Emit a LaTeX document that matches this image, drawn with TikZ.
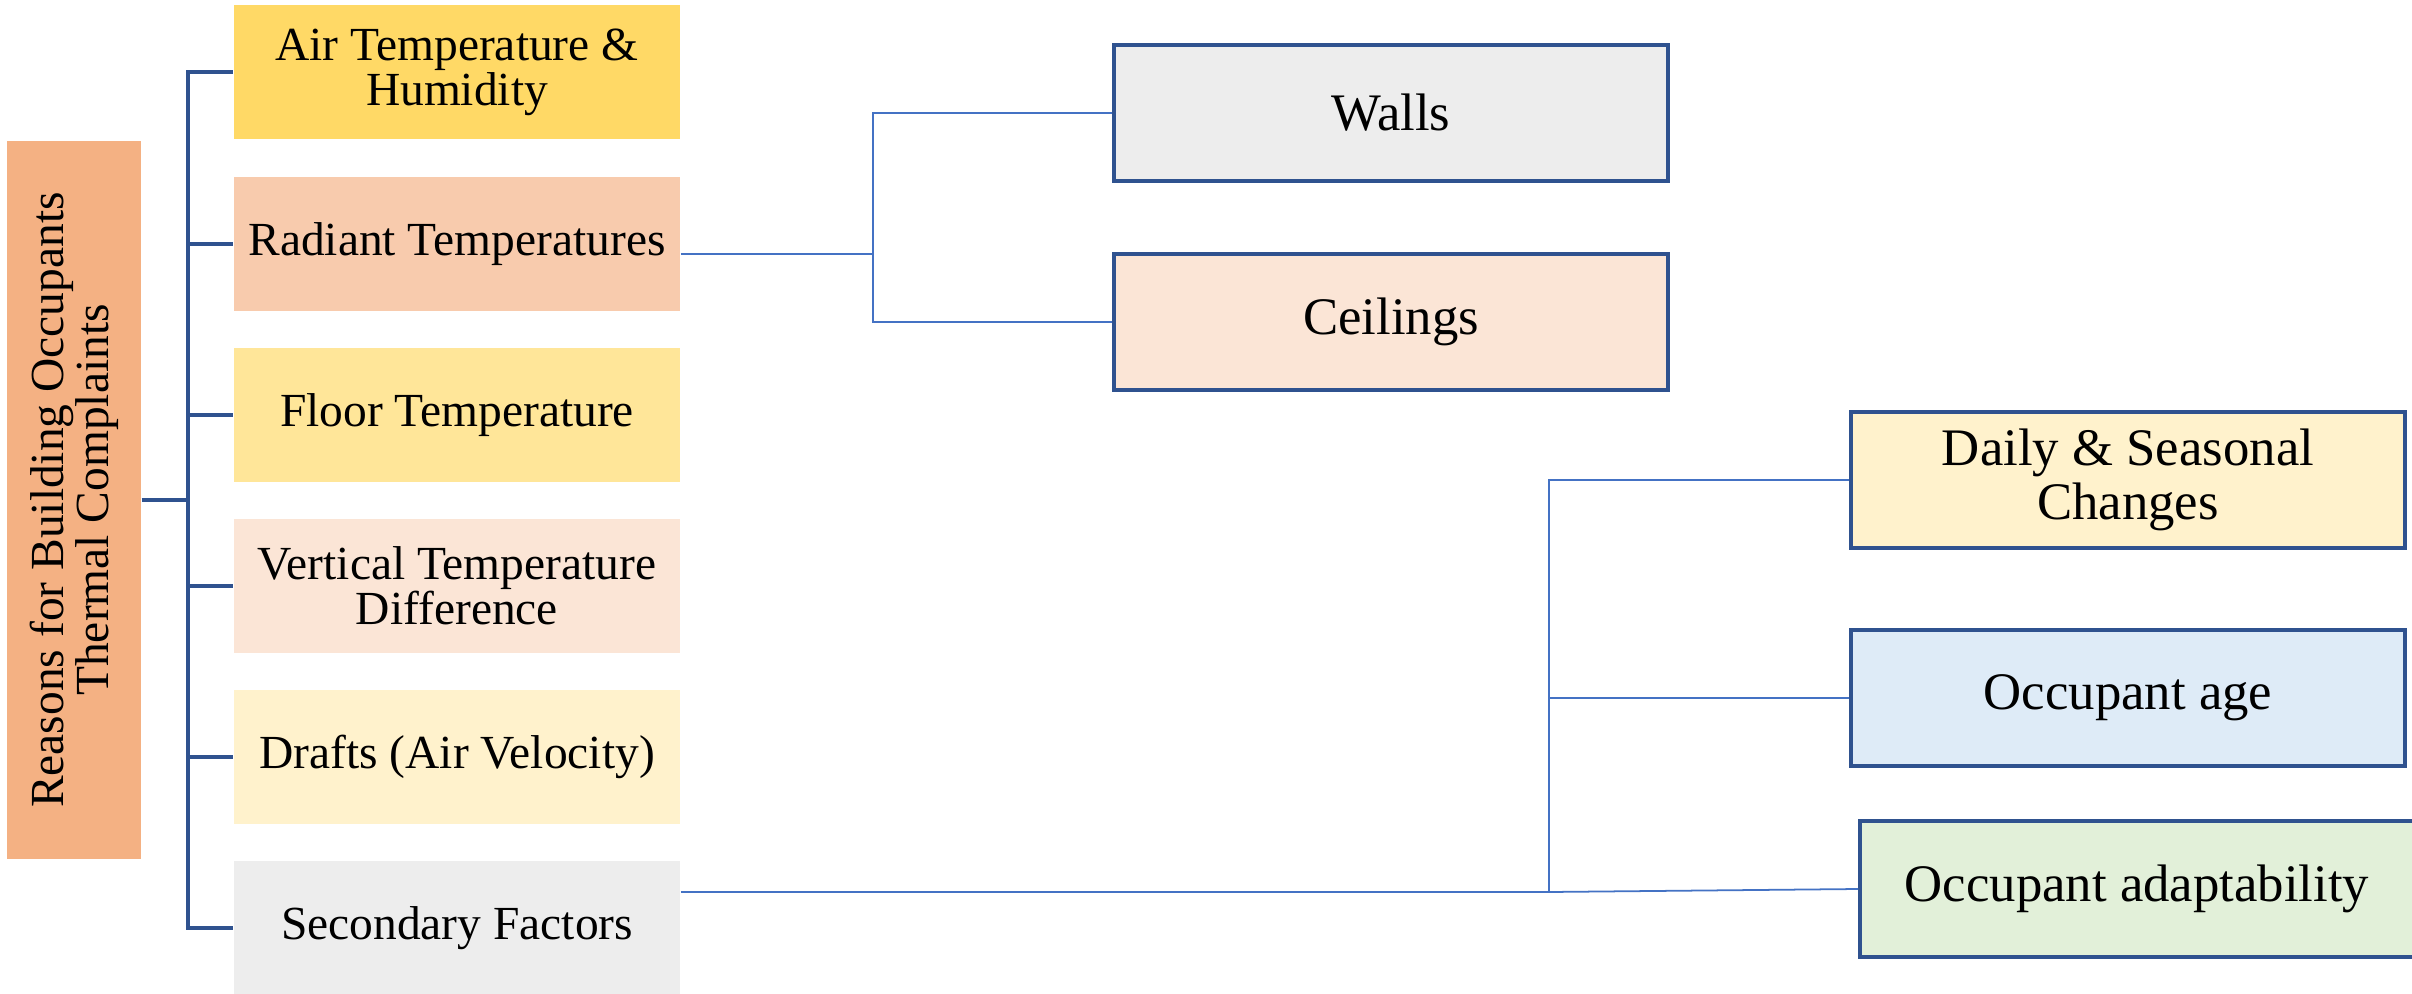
\documentclass[tikz,border=0pt]{standalone}
\usepackage{fontspec}
\setmainfont{Liberation Serif}
\usepackage{tikz}
\usepackage{xcolor}
\usetikzlibrary{calc}

\definecolor{rootc}{HTML}{F4B183}
\definecolor{airc}{HTML}{FFD966}
\definecolor{radc}{HTML}{F8CBAD}
\definecolor{floorc}{HTML}{FFE699}
\definecolor{vertc}{HTML}{FBE5D6}
\definecolor{draftc}{HTML}{FFF2CC}
\definecolor{secc}{HTML}{EDEDED}
\definecolor{agec}{HTML}{DEEBF7}
\definecolor{adaptc}{HTML}{E2F0D9}
\definecolor{trunkc}{HTML}{2F528F}
\definecolor{branchc}{HTML}{4472C4}

\begin{document}
\begin{tikzpicture}[x=0.01cm,y=0.01cm,
  lbox/.style={minimum width=4.46cm,minimum height=1.34cm,inner sep=0pt,align=center,
    font=\fontsize{13.5}{12.8}\selectfont},
  rbox/.style={draw=trunkc,line width=1pt,minimum width=5.54cm,minimum height=1.36cm,
    inner sep=0pt,align=center,font=\fontsize{15}{15.5}\selectfont},
  trunk/.style={trunkc,line width=1pt},
  branch/.style={branchc,line width=0.5pt}]
  \fill[white] (0,0) rectangle (2412,993);
  \useasboundingbox (0,0) rectangle (2412,993);

  \node[lbox,fill=rootc,rotate=90,minimum width=7.17cm] (root) at (74,493)
    {Reasons for Building Occupants\\Thermal Complaints};
  \foreach \n/\y/\c/\t in {air/921/airc/{Air Temperature \&\\Humidity},
      rad/749/radc/{Radiant Temperatures},floor/578/floorc/{Floor Temperature},
      vert/407/vertc/{Vertical Temperature\\Difference},
      draft/236/draftc/{Drafts (Air Velocity)},sec/65/secc/{Secondary Factors}}{
    \node[lbox,fill=\c] (\n) at (457,\y) {\t};
  }

  \node[rbox,fill=secc] (walls) at (1391,880) {Walls};
  \node[rbox,fill=vertc] (ceil) at (1391,671) {Ceilings};
  \node[rbox,fill=draftc] (daily) at (2128,513) {Daily \& Seasonal\\Changes};
  \node[rbox,fill=agec] (age) at (2128,295) {Occupant age};
  \node[rbox,fill=adaptc] (adapt) at (2137,104) {Occupant adaptability};

  \coordinate (hub) at (188,493);
  \draw[trunk] (root.south) -- (hub);
  \foreach \n in {air,rad,floor,vert,draft,sec}
    \draw[trunk] (hub) |- (\n.west);

  \coordinate (rj) at (873,739);
  \draw[branch] (rad.east |- rj) -- (rj);
  \draw[branch] (rj) |- (walls.west);
  \draw[branch] (rj) |- (ceil.west);

  \coordinate (sj) at (1549,101);
  \draw[branch] (sec.east |- sj) -- (sj);
  \draw[branch] (sj) |- (daily.west);
  \draw[branch] (sj) |- (age.west);
  \draw[branch] (sj) -- (adapt.west);
\end{tikzpicture}
\end{document}
